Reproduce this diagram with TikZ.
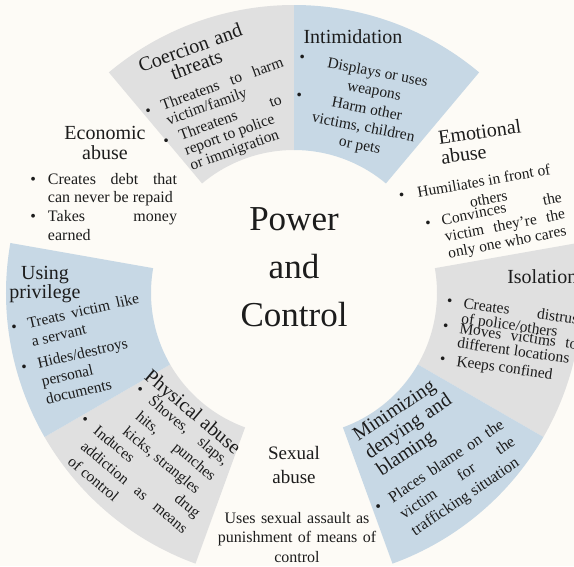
\documentclass[tikz,border=0pt]{standalone}
\usepackage{fontspec}
\setmainfont{Liberation Serif}
\usetikzlibrary{calc}

\definecolor{paper}{RGB}{253,251,246}
\definecolor{wgray}{RGB}{224,224,224}
\definecolor{wblue}{RGB}{199,216,229}
\definecolor{ink}{RGB}{28,28,28}

% bullet hanging to the left of the first line of an item
\newcommand{\bul}[1][11.3pt]{\noindent\llap{\textbullet\hspace{#1}}}
% one 40-degree piece of the ring
\newcommand{\ringpart}[3]{%
  \fill[#1] ($(c)+(#2:143pt)$) arc[start angle=#2, end angle=#3, radius=143pt]
    -- ($(c)+(#3:288pt)$) arc[start angle=#3, end angle=#2, radius=288pt] -- cycle;}

\tikzset{
  txt/.style={inner sep=0pt, outer sep=0pt, text=ink},
  ttl/.style={txt, font=\fontsize{20}{20}\selectfont},
  body/.style={txt, font=\fontsize{15.5}{18.5}\selectfont},
  jbody/.style={body, align=justify},
}

\begin{document}
\begin{tikzpicture}[x=1pt,y=-1pt]
\useasboundingbox (0,0) rectangle (574,566);
\fill[paper] (0,0) rectangle (574,566);
\clip (0,0) rectangle (574,566);
\coordinate (c) at (294,293);

% ring: gray, blue, blank repeating
\ringpart{wgray}{90}{130}
\ringpart{wblue}{50}{90}
\ringpart{wgray}{330}{370}
\ringpart{wblue}{290}{330}
\ringpart{wgray}{210}{250}
\ringpart{wblue}{170}{210}

% hub
\node[txt, font=\fontsize{35}{48}\selectfont, text width=200pt, align=center, anchor=base]
  (hub) at (294,230) {Power\\and\\Control};

% Coercion and threats
\node[ttl, font=\fontsize{20}{18}\selectfont, rotate=20, text width=140pt, align=center, anchor=base]
  (coerT) at (192.4,54.1) {Coercion and\\threats};
\node[jbody, font=\fontsize{15.5}{16}\selectfont, rotate=20, text width=129pt, anchor=base west]
  (coer1) at (163.2,110.3) {\bul Threatens to harm\linebreak victim/family};
\node[jbody, font=\fontsize{15.5}{16}\selectfont, rotate=20, text width=108pt, anchor=base west]
  (coer2) at (181.2,140.3) {\bul Threatens to\linebreak report to police\\or immigration};

% Intimidation
\node[ttl, anchor=base] (intiT) at (353,43) {Intimidation};
\node[body, rotate=-11, anchor=base west]
  (inti1) at (298.6,61.9) {\textbullet\hspace{14.3pt}\parbox[t]{120pt}{\centering Displays or uses\\weapons}};
\node[body, rotate=-11, anchor=base west]
  (inti2) at (295.6,99.9) {\textbullet\hspace{6.3pt}\parbox[t]{120pt}{\centering Harm other\\victims, children\\or pets}};

% Emotional abuse
\node[ttl, rotate=8, text width=130pt, align=left, anchor=base west]
  (emoT) at (439.3,144.3) {Emotional\\abuse};
\node[jbody, rotate=10, text width=138pt, anchor=base west]
  (emo1) at (418.3,197.7) {\bul[13.3pt]Humiliates in front of\par\centerline{others}};
\node[jbody, font=\fontsize{15.5}{17}\selectfont, rotate=11, text width=122pt, anchor=base west]
  (emo2) at (442.7,225) {\bul Convinces the\linebreak victim they're the\linebreak only one who cares};

% Isolation
\node[ttl, anchor=base west] (isoT) at (507.3,283.3) {Isolation};
\node[jbody, font=\fontsize{15.5}{15}\selectfont, rotate=-8, text width=120pt, anchor=base west]
  (iso1) at (463,308.3) {\bul Creates distrust\linebreak of police/others};
\node[jbody, font=\fontsize{15.5}{15}\selectfont, rotate=-8, text width=119pt, anchor=base west]
  (iso2) at (459,333) {\bul Moves victims to\linebreak different locations};
\node[jbody, font=\fontsize{15.5}{15}\selectfont, rotate=-8, text width=119pt, anchor=base west]
  (iso3) at (456,366) {\bul Keeps confined};

% Minimizing denying and blaming
\node[ttl, font=\fontsize{20}{21}\selectfont, rotate=34, text width=130pt, align=left, anchor=base west]
  (minT) at (358.3,441.7) {Minimizing\\denying and\\blaming};
\node[jbody, font=\fontsize{16}{20}\selectfont, rotate=34, text width=135pt, anchor=base west]
  (min1) at (393,503) {\bul Places blame on the\linebreak victim for the\linebreak trafficking situation};

% Sexual abuse
\node[ttl, font=\fontsize{19}{24}\selectfont, text width=120pt, align=center, anchor=base]
  (sexT) at (294,459) {Sexual\\abuse};
\node[body, font=\fontsize{16}{19.5}\selectfont, text width=170pt, align=center, anchor=base]
  (sex1) at (297,523) {Uses sexual assault as\\punishment of means of\\control};

% Physical abuse
\node[ttl, rotate=-40, anchor=base] (physT) at (188.8,416.8) {Physical abuse};
\node[jbody, font=\fontsize{15.5}{20}\selectfont, rotate=-40, text width=99pt, anchor=base west]
  (phys1) at (147.7,402.7) {\bul Shoves, slaps,\linebreak hits, punches\linebreak kicks, strangles};
\node[jbody, font=\fontsize{15.5}{20}\selectfont, rotate=-40, text width=134pt, anchor=base west]
  (phys2) at (92.7,432.7) {\bul Induces drug\linebreak addiction as means\linebreak of control};

% Using privilege
\node[ttl, font=\fontsize{20}{19.5}\selectfont, text width=100pt, align=center, anchor=base]
  (privT) at (45,279) {Using\\privilege};
\node[jbody, rotate=13, text width=114pt, anchor=base west]
  (priv1) at (28.8,328.4) {\bul Treats victim like\linebreak a servant};
\node[jbody, rotate=13, text width=114pt, anchor=base west]
  (priv2) at (38.8,368.4) {\bul Hides/destroys\\personal\\documents};

% Economic abuse
\node[ttl, text width=120pt, align=center, anchor=base] (ecoT) at (105,139) {Economic\\abuse};
\node[jbody, font=\fontsize{16}{18.7}\selectfont, text width=129pt, anchor=base west]
  (eco1) at (48,184) {\bul[12pt]Creates debt that\linebreak can never be repaid};
\node[jbody, font=\fontsize{16}{18.7}\selectfont, text width=129pt, anchor=base west]
  (eco2) at (48,221.5) {\bul[12pt]Takes money\linebreak earned};
\end{tikzpicture}
\end{document}
